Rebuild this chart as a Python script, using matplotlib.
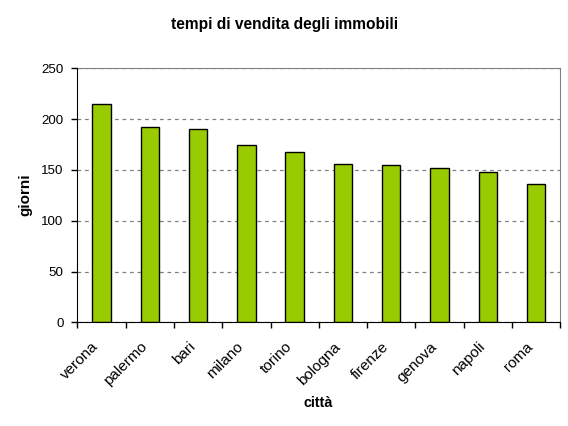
import numpy as np
import matplotlib.pyplot as plt
import matplotlib.transforms as mtransforms

plt.rcParams['font.family'] = ['Liberation Sans', 'DejaVu Sans']

# dati
citta = ['verona', 'palermo', 'bari', 'milano', 'torino',
         'bologna', 'firenze', 'genova', 'napoli', 'roma']
giorni = [215, 192, 190, 175, 168, 156, 155, 152, 148, 136]

fig = plt.figure(figsize=(5.68, 4.26), dpi=100)
# area del grafico in pixel: x 77..560, y 68..322
ax = fig.add_axes([77.3 / 568, 1 - 322.3 / 426, 483 / 568, 254 / 426])

x = np.arange(len(citta))
ax.bar(x, giorni, width=0.38, color='#99CC00', edgecolor='black',
       linewidth=1, zorder=3)

ax.set_xlim(-0.5, len(citta) - 0.5)
ax.set_ylim(0, 250)
ax.set_yticks(np.arange(0, 251, 50))
ax.yaxis.grid(True, color='#808080', linestyle=(0, (3, 3)), linewidth=0.9, zorder=0)

# tacche tra le categorie
ax.set_xticks(np.arange(-0.5, len(citta), 1))
ax.set_xticklabels([])
ax.set_xticks(x, minor=True)
ax.set_xticklabels(citta, minor=True, rotation=45, ha='right', va='center',
                   rotation_mode='anchor', fontsize=11)
ax.tick_params(axis='x', which='major', direction='out', length=4, width=1, color='black')
ax.tick_params(axis='x', which='minor', length=0, pad=16)
ax.tick_params(axis='y', direction='out', length=4, width=1, labelsize=9.6, pad=6)

shift = mtransforms.ScaledTranslation(-5 / 100, 0, fig.dpi_scale_trans)
for lab in ax.xaxis.get_minorticklabels():
    lab.set_transform(lab.get_transform() + shift)

for s in ['top', 'right']:
    ax.spines[s].set_color('#808080')
for s in ['left', 'bottom']:
    ax.spines[s].set_color('black')
    ax.spines[s].set_zorder(4)

fig.text(284.5 / 568, 1 - 25 / 426, 'tempi di vendita degli immobili',
         ha='center', va='center', fontsize=11.2, fontweight='bold')
fig.text(318 / 568, 1 - 403 / 426, 'città', ha='center', va='center',
         fontsize=10.4, fontweight='bold')
fig.text(25 / 568, 1 - 195 / 426, 'giorni', ha='center', va='center',
         fontsize=11, fontweight='bold', rotation=90)

fig.savefig('out.png', dpi=100)
